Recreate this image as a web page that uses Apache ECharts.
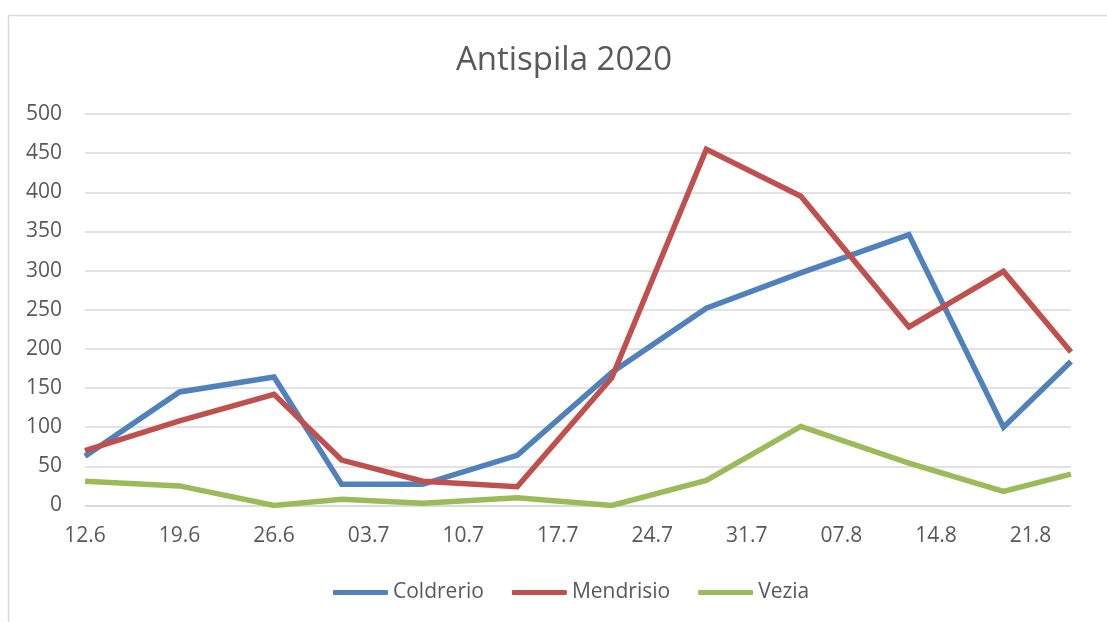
<!DOCTYPE html>
<html>
<head>
<meta charset="utf-8">
<title>Antispila 2020</title>
<script src="https://cdn.jsdelivr.net/npm/echarts@6/dist/echarts.min.js"></script>
<style>
  html, body { margin: 0; padding: 0; background: #ffffff; }
  #chart { width: 1107px; height: 622px; }
</style>
</head>
<body>
<div id="chart"></div>
<script>
// Sampling dates (2020) and trap counts per site
const sampleDates = ['2020-06-12', '2020-06-19', '2020-06-26', '2020-07-01', '2020-07-07', '2020-07-14',
                     '2020-07-21', '2020-07-28', '2020-08-04', '2020-08-12', '2020-08-19', '2020-08-24'];
const coldrerio = [63, 145, 164, 27, 27, 64, 170, 252, 297, 346, 100, 184];
const mendrisio = [70, 108, 142, 58, 31, 24, 163, 455, 395, 228, 299, 196];
const vezia     = [31, 25, 0, 8, 3, 10, 0, 32, 101, 54, 18, 40];

// Weekly tick labels, starting on the first sampling date
const tickLabels = ['12.6', '19.6', '26.6', '03.7', '10.7', '17.7', '24.7', '31.7', '07.8', '14.8', '21.8'];
const yTicks = [0, 50, 100, 150, 200, 250, 300, 350, 400, 450, 500];

const DAY_MS = 86400000;
const startMs = Date.parse(sampleDates[0]);
const dayOffset = d => Math.round((Date.parse(d) - startMs) / DAY_MS);
const toPoints = values => sampleDates.map((d, i) => [dayOffset(d), values[i]]);

const FONT = '"Open Sans", "Noto Sans", sans-serif';
const TEXT = '#595959';
const GRID = '#d9d9d9';
const LINE_W = 5.5;

const makeSeries = (name, values, color) => ({
  name: name,
  type: 'line',
  data: toPoints(values),
  symbol: 'none',
  showSymbol: false,
  lineStyle: { width: LINE_W, color: color, join: 'miter', cap: 'butt' },
  itemStyle: { color: color },
  emphasis: { disabled: true }
});

const chart = echarts.init(document.getElementById('chart'), null, { renderer: 'canvas' });
chart.setOption({
  animation: false,
  backgroundColor: '#ffffff',
  textStyle: { fontFamily: FONT, color: TEXT },
  graphic: [
    {
      type: 'rect',
      shape: { x: 8.5, y: 15.5, width: 1140, height: 640 },
      style: { fill: 'none', stroke: GRID, lineWidth: 1.5 },
      silent: true
    },
    {
      type: 'text',
      x: 564,
      y: 61,
      style: {
        text: 'Antispila 2020',
        fontFamily: FONT,
        fontSize: 33,
        fill: TEXT,
        align: 'center',
        verticalAlign: 'middle'
      },
      silent: true
    }
  ],
  grid: { left: 85, right: 36, top: 114, bottom: 116.5, containLabel: false },
  xAxis: {
    type: 'value',
    min: 0,
    max: dayOffset(sampleDates[sampleDates.length - 1]),
    interval: 7,
    axisLine: { show: true, lineStyle: { color: GRID, width: 1.5 } },
    axisTick: { show: false },
    splitLine: { show: false },
    axisLabel: {
      fontFamily: FONT,
      fontSize: 21,
      color: TEXT,
      margin: 20,
      showMaxLabel: false,
      formatter: v => (v % 7 === 0 && tickLabels[v / 7] !== undefined) ? tickLabels[v / 7] : ''
    }
  },
  yAxis: {
    type: 'value',
    min: yTicks[0],
    max: yTicks[yTicks.length - 1],
    interval: yTicks[1] - yTicks[0],
    axisLine: { show: false },
    axisTick: { show: false },
    splitLine: { show: true, lineStyle: { color: GRID, width: 1.5 } },
    axisLabel: { fontFamily: FONT, fontSize: 21, color: TEXT, margin: 23 }
  },
  legend: {
    orient: 'horizontal',
    left: 333,
    top: 582,
    padding: 0,
    icon: 'roundRect',
    itemWidth: 55,
    itemHeight: 5,
    itemGap: 28,
    textStyle: { fontFamily: FONT, fontSize: 21, color: TEXT },
    data: ['Coldrerio', 'Mendrisio', 'Vezia']
  },
  series: [
    makeSeries('Coldrerio', coldrerio, '#4f81bd'),
    makeSeries('Mendrisio', mendrisio, '#c0504d'),
    makeSeries('Vezia', vezia, '#9bbb59')
  ]
});
</script>
</body>
</html>
